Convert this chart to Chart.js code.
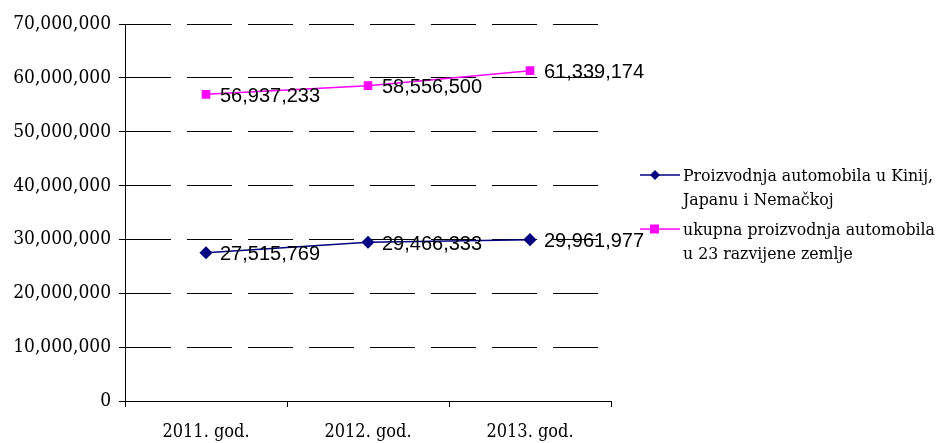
<!DOCTYPE html>
<html>
<head>
<meta charset="utf-8">
<script src="https://cdn.jsdelivr.net/npm/chart.js@4/dist/chart.umd.min.js"></script>
<style>
  html, body { margin: 0; padding: 0; background: #fff; }
  #wrap { width: 945px; height: 443px; }
</style>
</head>
<body>
<div id="wrap"><canvas id="chart" width="945" height="443"></canvas></div>
<script>
// podaci
const categories = ['2011. god.', '2012. god.', '2013. god.'];
const seriesNames = [
  ['Proizvodnja automobila u Kinij,', 'Japanu i Nemačkoj'],
  ['ukupna proizvodnja automobila', 'u 23 razvijene zemlje'],
];
const kjnValues = [27515769, 29466333, 29961977];
const totalValues = [56937233, 58556500, 61339174];
const yTicks = [0, 10000000, 20000000, 30000000, 40000000, 50000000, 60000000, 70000000];

const serif = "'DejaVu Serif Condensed', 'DejaVu Serif', serif";
const fmt = v => v.toLocaleString('en-US');

// oznake vrednosti pored tačaka
const valueLabels = {
  id: 'valueLabels',
  afterDatasetsDraw(chart) {
    const ctx = chart.ctx;
    ctx.save();
    ctx.font = "20px 'Liberation Sans', Arial, sans-serif";
    ctx.fillStyle = '#000';
    ctx.textBaseline = 'middle';
    ctx.textAlign = 'left';
    chart.data.datasets.forEach((ds, i) => {
      chart.getDatasetMeta(i).data.forEach((pt, j) => {
        ctx.fillText(fmt(ds.data[j]), pt.x + 14, pt.y + 2);
      });
    });
    ctx.restore();
  }
};

// legenda desno, tekst u dva reda
const sideLegend = {
  id: 'sideLegend',
  afterDraw(chart) {
    const ctx = chart.ctx;
    const x0 = 640, rows = [175, 229];
    ctx.save();
    chart.data.datasets.forEach((ds, i) => {
      const y = rows[i];
      ctx.strokeStyle = ds.borderColor;
      ctx.lineWidth = 1.5;
      ctx.beginPath();
      ctx.moveTo(x0, y);
      ctx.lineTo(x0 + 40, y);
      ctx.stroke();
      ctx.fillStyle = ds.pointBackgroundColor;
      ctx.beginPath();
      if (ds.pointStyle === 'rectRot') {
        ctx.moveTo(x0 + 15, y - 5);
        ctx.lineTo(x0 + 20, y);
        ctx.lineTo(x0 + 15, y + 5);
        ctx.lineTo(x0 + 10, y);
        ctx.closePath();
        ctx.fill();
      } else {
        ctx.fillRect(x0 + 10, y - 4.5, 9, 9);
      }
      ctx.fillStyle = '#000';
      ctx.font = '17.5px ' + serif;
      ctx.textBaseline = 'middle';
      seriesNames[i].forEach((line, k) => {
        ctx.fillText(line, x0 + 43, y + 1 + k * 24);
      });
    });
    ctx.restore();
  }
};

new Chart(document.getElementById('chart'), {
  type: 'line',
  data: {
    labels: categories,
    datasets: [
      {
        label: seriesNames[0].join(' '),
        data: kjnValues,
        borderColor: '#000080',
        backgroundColor: '#000080',
        pointBackgroundColor: '#000080',
        pointBorderColor: '#000080',
        pointStyle: 'rectRot',
        pointRadius: 5.5,
        borderWidth: 1.5,
        tension: 0,
      },
      {
        label: seriesNames[1].join(' '),
        data: totalValues,
        borderColor: '#ff00ff',
        backgroundColor: '#ff00ff',
        pointBackgroundColor: '#ff00ff',
        pointBorderColor: '#ff00ff',
        pointStyle: 'rect',
        pointRadius: 5,
        borderWidth: 1.5,
        tension: 0,
      },
    ],
  },
  options: {
    responsive: false,
    animation: false,
    layout: { padding: { top: 24, right: 334, left: 0, bottom: 0 } },
    plugins: { legend: { display: false }, tooltip: { enabled: false } },
    scales: {
      x: {
        offset: true,
        grid: { offset: true, drawOnChartArea: false, drawTicks: true, tickLength: 6, color: '#000' },
        border: { color: '#000', width: 1 },
        ticks: { color: '#000', font: { family: serif, size: 18 }, padding: 15, maxRotation: 0 },
        afterFit(scale) { scale.height = 42; },
      },
      y: {
        min: 0,
        max: 70000000,
        afterBuildTicks(scale) { scale.ticks = yTicks.map(v => ({ value: v })); },
        grid: { color: '#000', lineWidth: 1, tickLength: 6, tickColor: '#000' },
        border: { color: '#000', width: 1, dash: [45, 16] },
        ticks: {
          color: '#000',
          font: { family: serif, size: 19 },
          padding: 8,
          callback: v => fmt(v),
        },
        afterFit(scale) { scale.width = 125; },
      },
    },
  },
  plugins: [valueLabels, sideLegend],
});
</script>
</body>
</html>
